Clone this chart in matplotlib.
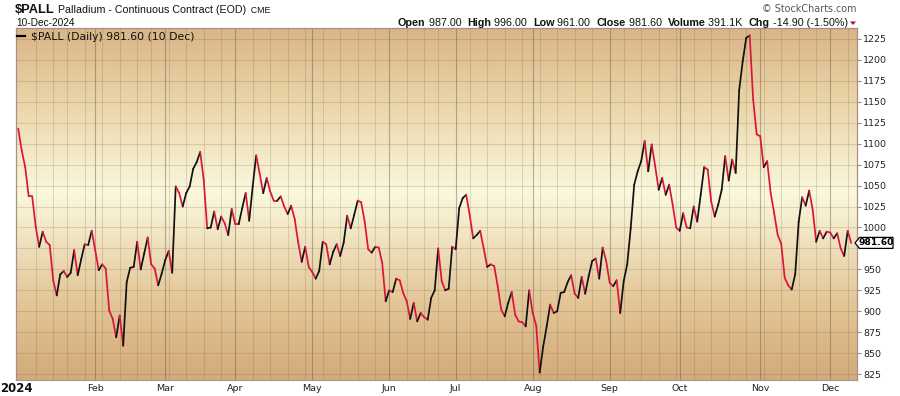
import numpy as np
import pandas as pd
import matplotlib
matplotlib.use("Agg")
import matplotlib.pyplot as plt
from matplotlib.collections import LineCollection
from matplotlib.transforms import IdentityTransform
from matplotlib.patches import Polygon

# ---------------- data ----------------
symbol = "$PALL"
title = "Palladium - Continuous Contract (EOD)"
exchange = "CME"
as_of = "10-Dec-2024"
open_txt, high_txt, low_txt, close_txt = "987.00", "996.00", "961.00", "981.60"
volume_txt, chg_txt = "391.1K", "-14.90 (-1.50%)"
legend_txt = "$PALL (Daily) 981.60 (10 Dec)"
last_close = 981.60

closes = [
    1118, 1092, 1072, 1037, 1037, 1001, 977, 995, 983, 979,
    937, 919, 944, 948, 941, 946, 973, 943, 962, 980,
    979, 996, 973, 949, 956, 951, 901, 891, 869, 895,
    859, 935, 952, 953, 983, 950, 969, 988, 956, 951,
    931, 945, 961, 972, 946, 1049, 1041, 1025, 1041, 1049,
    1070, 1078, 1090, 1057, 999, 1000, 1019, 998, 1013, 1005,
    991, 1022, 1004, 1004, 1023, 1041, 1008, 1049, 1086, 1064,
    1041, 1059, 1043, 1032, 1032, 1037, 1025, 1016, 1026, 1010,
    982, 959, 977, 953, 947, 939, 948, 983, 980, 956,
    971, 980, 966, 982, 1014, 999, 1015, 1032, 1030, 1007,
    974, 970, 977, 976, 958, 912, 925, 923, 939, 937,
    922, 912, 891, 910, 888, 898, 893, 890, 916, 925,
    975, 936, 925, 927, 977, 974, 1023, 1035, 1039, 1015,
    987, 991, 996, 975, 953, 956, 954, 930, 902, 894,
    910, 923, 896, 888, 887, 882, 925, 898, 883, 827,
    858, 882, 908, 898, 900, 922, 923, 935, 943, 921,
    916, 941, 921, 942, 960, 963, 939, 976, 960, 934,
    930, 937, 898, 936, 956, 999, 1051, 1067, 1079, 1103,
    1067, 1099, 1073, 1045, 1059, 1039, 1051, 1027, 1000, 996,
    1017, 1000, 999, 1025, 1007, 1039, 1072, 1069, 1031, 1013,
    1027, 1045, 1085, 1056, 1081, 1065, 1164, 1198, 1226, 1229,
    1152, 1111, 1109, 1072, 1079, 1041, 1017, 991, 981, 940,
    931, 926, 944, 1007, 1036, 1026, 1044, 1021, 983, 996,
    987, 995, 994, 987, 993, 975, 966, 996, 981.6,
]
holidays = ["2024-01-01", "2024-01-15", "2024-02-19", "2024-03-29", "2024-05-27",
            "2024-06-19", "2024-07-04", "2024-09-02", "2024-11-28"]
dates = pd.bdate_range("2023-12-29", "2024-12-10", freq="C", holidays=holidays)
n = min(len(dates), len(closes))
dates = dates[:n]
closes = np.array(closes[:n], dtype=float)

y_ticks = list(range(825, 1226, 25))
year_label = "2024"
month_names = ["Jan", "Feb", "Mar", "Apr", "May", "Jun", "Jul", "Aug", "Sep", "Oct", "Nov", "Dec"]

# ---------------- figure ----------------
W, H = 900, 396
fig = plt.figure(figsize=(W / 100, H / 100), dpi=100, facecolor="white")
L, R, T, B = 16, 857, 28, 380
ax = fig.add_axes([L / W, 1 - B / H, (R - L) / W, (B - T) / H])

x = np.arange(n)
ax.set_xlim(-0.63, 239.66)
ax.set_ylim(818.1, 1237.9)

# gradient background
stops = [(0.0, (212, 170, 122)), (0.22, (227, 198, 151)), (0.53, (250, 248, 221)),
         (0.78, (235, 215, 170)), (1.0, (217, 181, 135))]
fr = np.linspace(0, 1, 300)
cols = np.zeros((300, 1, 3))
for c in range(3):
    cols[:, 0, c] = np.interp(fr, [s[0] for s in stops], [s[1][c] / 255 for s in stops])
ax.imshow(cols, extent=[0, 1, 0, 1], transform=ax.transAxes, aspect="auto",
          origin="lower", zorder=0, interpolation="bilinear")

# grid
month_idx = [i for i in range(1, n) if dates[i].month != dates[i - 1].month]
week_idx = [i for i in range(1, n) if dates[i].weekday() < dates[i - 1].weekday()]
for yv in y_ticks:
    ax.axhline(yv, color=(0.42, 0.33, 0.24), alpha=0.19, lw=0.75, zorder=1)
for i in week_idx:
    if i not in month_idx:
        ax.axvline(i, color=(0.42, 0.33, 0.24), alpha=0.19, lw=0.75, zorder=1)
for i in month_idx:
    if dates[i].month != 1:
        ax.axvline(i, color=(0.38, 0.32, 0.28), alpha=0.42, lw=0.8, zorder=1)

# price line (black up, red down)
pts = np.column_stack([x, closes])
segs = np.stack([pts[:-1], pts[1:]], axis=1)
seg_cols = ["#111111" if closes[i + 1] > closes[i] else "#dc143c" for i in range(n - 1)]
lc = LineCollection(segs, colors=seg_cols, linewidths=1.25, zorder=3,
                    capstyle="round", joinstyle="round")
ax.add_collection(lc)

# axes styling
for s in ["left", "right", "top"]:
    ax.spines[s].set_color("#a89088")
    ax.spines[s].set_linewidth(0.9)
ax.spines["bottom"].set_color("#9a9a9a")
ax.spines["bottom"].set_linestyle((0, (1, 1)))
ax.spines["bottom"].set_linewidth(0.8)

ax.yaxis.tick_right()
ax.set_yticks(y_ticks)
# the 975 label sits under the last-price tag, as in the reference
ax.set_yticklabels(["" if abs(v - last_close) < 12.5 else str(v) for v in y_ticks])
ax.tick_params(axis="y", direction="out", length=3, width=0.8, color="#a08888",
               pad=1.5, labelsize=6.8, labelcolor="#222222")
xt = [i for i in month_idx if dates[i].month != 1]
ax.set_xticks(xt)
ax.set_xticklabels([month_names[dates[i].month - 1] for i in xt])
ax.tick_params(axis="x", length=0, pad=3.0, labelsize=6.8, labelcolor="#222222")

# ---------------- texts ----------------
pix = IdentityTransform()
renderer = fig.canvas.get_renderer()


def seq(x0, ybase_top, parts):
    xx = x0
    for txt, kw in parts:
        t = fig.text(xx, H - ybase_top, txt, transform=pix, va="baseline", ha="left", **kw)
        bb = t.get_window_extent(renderer)
        xx = bb.x1
    return xx


fig.text(0, H - 391.7, year_label, transform=pix, fontsize=8.5, fontweight="bold",
         family="DejaVu Sans", va="baseline", ha="left", color="#111111")

hdr = dict(family="Liberation Sans", color="#111111")
seq(15, 13.3, [(symbol, dict(fontsize=9.3, fontweight="bold", **hdr)),
               (" " + title, dict(fontsize=7.7, **hdr)),
               ("  " + exchange, dict(fontsize=6.3, **hdr))])
fig.text(16, H - 26, as_of, transform=pix, fontsize=7.3, va="baseline", **hdr)

fig.text(856, H - 12.5, "\u00a9 StockCharts.com", transform=pix, fontsize=6.9,
         va="baseline", ha="right", family="DejaVu Sans", color="#555555")

parts_spec = [("Open", True), (" " + open_txt + "  ", False), ("High", True),
              (" " + high_txt + "  ", False), ("Low", True), (" " + low_txt + "  ", False),
              ("Close", True), (" " + close_txt + "  ", False), ("Volume", True),
              (" " + volume_txt + "  ", False), ("Chg", True), (" " + chg_txt, False)]
trial = 8.0
tmp = []
for txt, b in parts_spec:
    t = fig.text(0, 0, txt, transform=pix, fontsize=trial,
                 fontweight="bold" if b else "normal", **hdr)
    tmp.append(t)
wtot = sum(t.get_window_extent(renderer).width for t in tmp)
for t in tmp:
    t.remove()
fs = trial * (847 - 398) / wtot
seq(398, 26, [(txt, dict(fontsize=fs, fontweight="bold" if b else "normal", **hdr))
              for txt, b in parts_spec])
fig.patches.append(Polygon([[850, H - 21.5], [856, H - 21.5], [853, H - 25]], closed=True,
                           transform=pix, facecolor="#a0103a", edgecolor="none"))

# legend inside plot
fig.lines.append(plt.Line2D([17, 25], [H - 36, H - 36], transform=pix, color="black", lw=1.6))
fig.text(31, H - 39.5, legend_txt, transform=pix, fontsize=7.8, family="DejaVu Sans",
         va="baseline", ha="left", color="#111111")

# last price tag
ytag = ax.transData.transform((0, last_close))[1]
tag = Polygon([[855, ytag], [859.5, ytag + 5.5], [893, ytag + 5.5], [893, ytag - 5.5],
               [859.5, ytag - 5.5]], closed=True, transform=pix, facecolor="white",
              edgecolor="black", lw=0.9, zorder=10)
fig.patches.append(tag)
fig.text(876, ytag, f"{last_close:.2f}", transform=pix, fontsize=6.6, fontweight="bold",
         family="DejaVu Sans", va="center", ha="center", color="black", zorder=11)

fig.savefig("out.png", dpi=100, facecolor="white")
